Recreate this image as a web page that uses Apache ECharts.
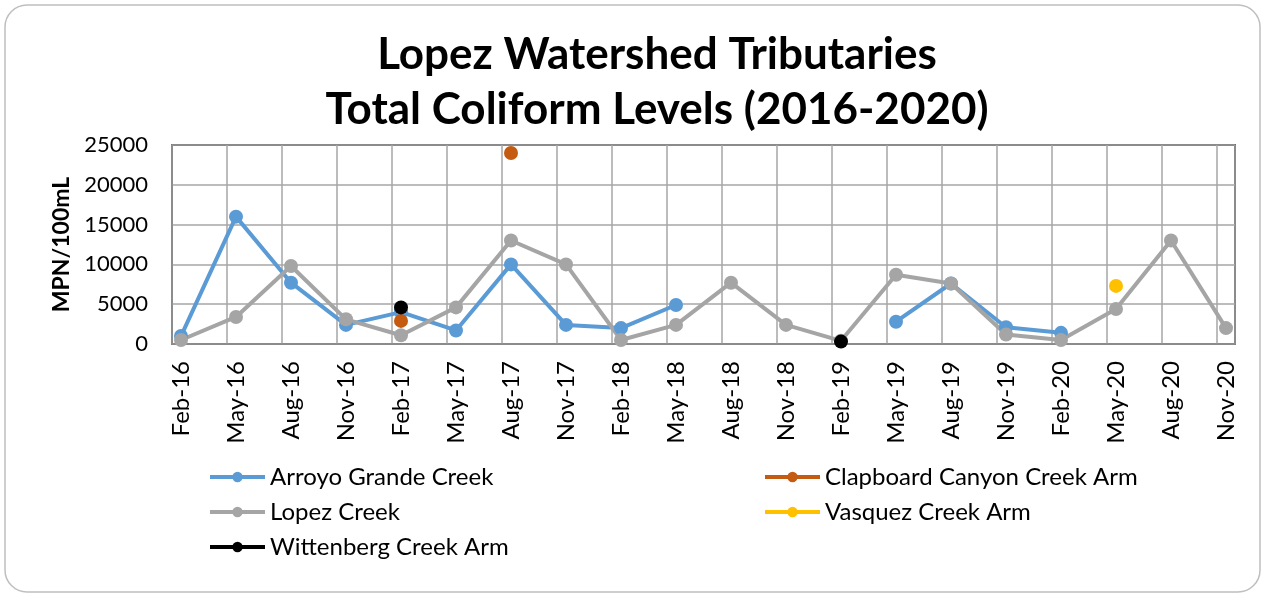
<!DOCTYPE html>
<html>
<head>
<meta charset="utf-8">
<script src="https://cdn.jsdelivr.net/npm/echarts@6/dist/echarts.min.js"></script>
<style>
  html, body { margin: 0; padding: 0; background: #fff; }
  #chart { width: 1265px; height: 598px; }
</style>
</head>
<body>
<div id="chart"></div>
<script>
// quarterly sampling dates
var categories = ['Feb-16', 'May-16', 'Aug-16', 'Nov-16', 'Feb-17', 'May-17', 'Aug-17', 'Nov-17',
  'Feb-18', 'May-18', 'Aug-18', 'Nov-18', 'Feb-19', 'May-19', 'Aug-19', 'Nov-19',
  'Feb-20', 'May-20', 'Aug-20', 'Nov-20']

var arroyoGrande = [1000, 16000, 7700, 2400, 4000, 1700, 10000, 2400, 2000, 4900,
  null, null, null, 2800, 7600, 2100, 1400, null, null, null]
var clapboardCanyon = [null, null, null, null, 2900, null, 24000, null, null, null,
  null, null, null, null, null, null, null, null, null, null]
var lopezCreek = [500, 3400, 9800, 3100, 1100, 4600, 13000, 10000, 500, 2400,
  7700, 2400, 400, 8700, 7600, 1200, 500, 4400, 13000, 2000]
var vasquezCreek = [null, null, null, null, null, null, null, null, null, null,
  null, null, null, null, null, null, null, 7300, null, null]
var wittenberg = [null, null, null, null, 4600, null, null, null, null, null,
  null, null, 300, null, null, null, null, null, null, null]

var yTicks = [0, 5000, 10000, 15000, 20000, 25000]

var font = 'Lato, "Open Sans", sans-serif'
var chart = echarts.init(document.getElementById('chart'))

function lineSeries(name, data, color) {
  return {
    name: name,
    type: 'line',
    xAxisIndex: 1,
    yAxisIndex: 1,
    data: data,
    connectNulls: false,
    symbol: 'circle',
    symbolSize: 14,
    lineStyle: { width: 4, color: color },
    itemStyle: { color: color },
    emphasis: { disabled: true }
  }
}

function legendBlock(names, left) {
  return {
    data: names,
    orient: 'vertical',
    left: left,
    top: 460,
    itemWidth: 55,
    itemHeight: 13,
    itemGap: 11,
    lineStyle: { width: 4 },
    textStyle: { fontFamily: font, fontSize: 24, color: '#000' }
  }
}

var option = {
  backgroundColor: '#fff',
  animation: false,
  title: {
    text: 'Lopez Watershed Tributaries\nTotal Coliform Levels (2016-2020)',
    left: 652,
    textAlign: 'center',
    top: 22,
    textStyle: {
      fontFamily: font,
      fontWeight: 'bold',
      fontSize: 44,
      lineHeight: 55,
      color: '#000'
    }
  },
  graphic: [
    {
      type: 'rect',
      shape: { x: 5, y: 5, width: 1255, height: 587, r: 22 },
      style: { fill: 'none', stroke: '#bfbfbf', lineWidth: 1.5 },
      silent: true
    }
  ],
  legend: [
    legendBlock(['Arroyo Grande Creek', 'Lopez Creek', 'Wittenberg Creek Arm'], 203),
    legendBlock(['Clapboard Canyon Creek Arm', 'Vasquez Creek Arm'], 758)
  ],
  grid: [
    { left: 172, right: 30, top: 145, bottom: 254, show: true, borderColor: '#000', borderWidth: 1.5 },
    { left: 181, right: 39, top: 145, bottom: 254 }
  ],
  xAxis: [
    {
      // gridline axis
      type: 'value',
      gridIndex: 0,
      min: 0,
      max: 1063 / 55,
      interval: 1,
      axisLabel: { show: false },
      axisTick: { show: false },
      axisLine: { show: true, lineStyle: { color: '#8c8c8c', width: 1.5 } },
      splitLine: { show: true, lineStyle: { color: '#a6a6a6', width: 1.5 } }
    },
    {
      type: 'category',
      gridIndex: 1,
      data: categories,
      boundaryGap: false,
      axisLine: { show: false },
      axisTick: { show: false },
      splitLine: { show: false },
      axisLabel: {
        rotate: 90,
        interval: 0,
        margin: 17,
        fontFamily: font,
        fontSize: 24,
        color: '#000'
      }
    }
  ],
  yAxis: [
    {
      type: 'value',
      gridIndex: 0,
      min: yTicks[0],
      max: yTicks[yTicks.length - 1],
      interval: 5000,
      name: 'MPN/100mL',
      nameLocation: 'middle',
      nameRotate: 90,
      nameGap: 89,
      nameTextStyle: { fontFamily: font, fontWeight: 'bold', fontSize: 23, color: '#000' },
      axisLine: { show: true, lineStyle: { color: '#8c8c8c', width: 1.5 } },
      axisTick: { show: false },
      axisLabel: {
        fontFamily: font,
        fontSize: 22,
        color: '#000',
        margin: 24,
        formatter: function (v) { return String(v) }
      },
      splitLine: { show: true, lineStyle: { color: '#a6a6a6', width: 1.5 } }
    },
    {
      type: 'value',
      gridIndex: 1,
      min: yTicks[0],
      max: yTicks[yTicks.length - 1],
      show: false
    }
  ],
  series: [
    lineSeries('Arroyo Grande Creek', arroyoGrande, '#5b9bd5'),
    lineSeries('Clapboard Canyon Creek Arm', clapboardCanyon, '#c55a11'),
    lineSeries('Lopez Creek', lopezCreek, '#a5a5a5'),
    lineSeries('Vasquez Creek Arm', vasquezCreek, '#ffc000'),
    lineSeries('Wittenberg Creek Arm', wittenberg, '#000000')
  ]
}

chart.setOption(option)
</script>
</body>
</html>
